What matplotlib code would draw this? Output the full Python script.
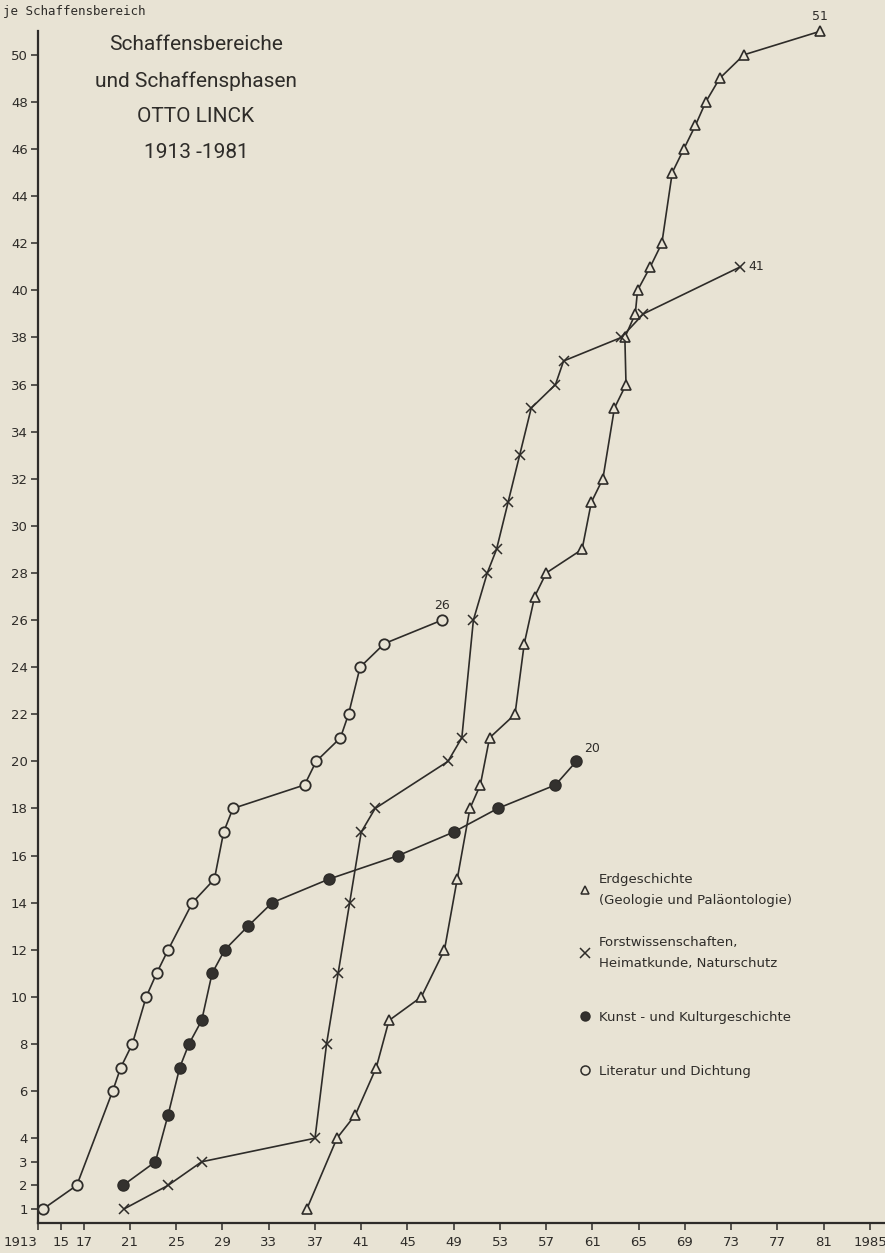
import matplotlib
matplotlib.use("Agg")
import matplotlib.pyplot as plt
from matplotlib.lines import Line2D
from matplotlib.legend import Legend

# ---------------- data ----------------
erd_years = [1936.3, 1938.9, 1940.5, 1942.3, 1943.4, 1946.2, 1948.2, 1949.3, 1950.4, 1951.3,
             1952.1, 1954.3, 1955.1, 1956.0, 1957.0, 1960.1, 1960.9, 1961.9, 1962.9, 1963.9,
             1963.8, 1964.7, 1964.9, 1966.0, 1967.0, 1967.9, 1968.9, 1969.9, 1970.8, 1972.0,
             1974.1, 1980.7]
erd_vals = [1, 4, 5, 7, 9, 10, 12, 15, 18, 19, 21, 22, 25, 27, 28, 29, 31, 32, 35, 36,
            38, 39, 40, 41, 42, 45, 46, 47, 48, 49, 50, 51]

forst_years = [1920.5, 1924.3, 1927.2, 1937.0, 1938.0, 1939.0, 1940.0, 1941.0, 1942.2, 1948.5,
               1949.7, 1950.7, 1951.9, 1952.7, 1953.7, 1954.7, 1955.7, 1957.8, 1958.5, 1963.5,
               1965.4, 1973.8]
forst_vals = [1, 2, 3, 4, 8, 11, 14, 17, 18, 20, 21, 26, 28, 29, 31, 33, 35, 36, 37, 38, 39, 41]

kunst_years = [1920.4, 1923.2, 1924.3, 1925.3, 1926.1, 1927.2, 1928.1, 1929.2, 1931.2, 1933.3,
               1938.2, 1944.2, 1949.0, 1952.8, 1957.8, 1959.6]
kunst_vals = [2, 3, 5, 7, 8, 9, 11, 12, 13, 14, 15, 16, 17, 18, 19, 20]

lit_years = [1913.5, 1916.4, 1919.5, 1920.2, 1921.2, 1922.4, 1923.3, 1924.3, 1926.4, 1928.3,
             1929.1, 1929.9, 1936.1, 1937.1, 1939.2, 1939.9, 1940.9, 1943.0, 1948.0]
lit_vals = [1, 2, 6, 7, 8, 10, 11, 12, 14, 15, 17, 18, 19, 20, 21, 22, 24, 25, 26]

x_ticks = [1913, 1915, 1917, 1921, 1925, 1929, 1933, 1937, 1941, 1945, 1949, 1953, 1957,
           1961, 1965, 1969, 1973, 1977, 1981, 1985]
x_ticklabels = ["1913", "15", "17", "21", "25", "29", "33", "37", "41", "45", "49", "53", "57",
                "61", "65", "69", "73", "77", "81", "1985"]
y_ticks = [1, 2, 3, 4] + list(range(6, 51, 2))

legend_labels = ["Erdgeschichte\n(Geologie und Paläontologie)",
                 "Forstwissenschaften,\nHeimatkunde, Naturschutz",
                 "Kunst - und Kulturgeschichte",
                 "Literatur und Dichtung"]
title_lines = ["Schaffensbereiche", "und Schaffensphasen", "OTTO LINCK", "1913 -1981"]

# ---------------- style ----------------
BG = "#e8e3d4"
INK = "#2e2c29"
DOT = "#33312e"
plt.rcParams["font.family"] = ["DejaVu Sans"]

W, H = 885, 1253
fig = plt.figure(figsize=(W / 100, H / 100), dpi=100, facecolor=BG)
ax = fig.add_axes([37.5 / W, 30 / H, (885 - 37.5) / W, (1223 - 31.25) / H])
ax.set_facecolor(BG)
ax.set_xlim(1913, 1986.3)
ax.set_ylim(0.4, 51)

lw = 1.2
ax.plot(erd_years, erd_vals, color=INK, lw=lw, marker="^", ms=7, mfc=BG, mec=INK, mew=1.2,
        clip_on=False, zorder=3)
ax.plot(forst_years, forst_vals, color=INK, lw=lw, marker="x", ms=7.5, mec=INK, mew=1.1,
        clip_on=False, zorder=3)
ax.plot(kunst_years, kunst_vals, color=INK, lw=lw, marker="o", ms=8, mfc=DOT, mec=INK,
        clip_on=False, zorder=3)
ax.plot(lit_years, lit_vals, color=INK, lw=lw, marker="o", ms=7.5, mfc=BG, mec=INK, mew=1.3,
        clip_on=False, zorder=3)

# end labels
ax.annotate(str(erd_vals[-1]), (erd_years[-1], erd_vals[-1]), xytext=(0, 6),
            textcoords="offset points", ha="center", va="bottom", fontsize=9, color=INK)
ax.annotate(str(forst_vals[-1]), (forst_years[-1], forst_vals[-1]), xytext=(6, 0),
            textcoords="offset points", ha="left", va="center", fontsize=9, color=INK)
ax.annotate(str(lit_vals[-1]), (lit_years[-1], lit_vals[-1]), xytext=(0, 6),
            textcoords="offset points", ha="center", va="bottom", fontsize=9, color=INK)
ax.annotate(str(kunst_vals[-1]), (kunst_years[-1], kunst_vals[-1]), xytext=(11, 9),
            textcoords="offset points", ha="center", va="center", fontsize=9, color=INK)

# axes
for s in ("top", "right"):
    ax.spines[s].set_visible(False)
for s in ("left", "bottom"):
    ax.spines[s].set_color(INK)
    ax.spines[s].set_linewidth(1.6)
ax.set_xticks(x_ticks)
ax.set_xticklabels(x_ticklabels)
ax.set_yticks(y_ticks)
ax.set_yticklabels([str(v) for v in y_ticks])
ax.tick_params(axis="both", colors=INK, labelcolor=INK, labelsize=9.5, length=5, width=1.1)
ax.tick_params(axis="x", pad=4)
ax.tick_params(axis="y", pad=2)
xl = ax.get_xticklabels()
xl[0].set_ha("right")

fig.text(3 / W, 1 - 12 / H, "je Schaffensbereich", fontsize=9, color=INK, ha="left",
         va="center", family=["DejaVu Sans Mono"])

# title
for i, t in enumerate(title_lines):
    fig.text(196 / W, 1 - (45 + i * 36) / H, t, fontsize=15, color=INK, ha="center",
             va="center", family=["Roboto", "DejaVu Sans"])

# legend: one small legend per entry so each can sit at its own height
handles = [
    Line2D([], [], ls="none", marker="^", ms=6, mfc=BG, mec=INK, mew=1.1),
    Line2D([], [], ls="none", marker="x", ms=6.5, mec=INK, mew=1.1),
    Line2D([], [], ls="none", marker="o", ms=6.5, mfc=DOT, mec=INK),
    Line2D([], [], ls="none", marker="o", ms=6.5, mfc=BG, mec=INK, mew=1.1),
]
centers_px = [890, 953, 1017, 1071]
for h, lab, cy in zip(handles, legend_labels, centers_px):
    lg = Legend(ax, [h], [lab], loc="center left", bbox_to_anchor=(578 / W, 1 - cy / H),
                bbox_transform=fig.transFigure, frameon=False, fontsize=9.5,
                handlelength=1.0, handletextpad=0.6, borderpad=0, borderaxespad=0,
                labelcolor=INK)
    for t in lg.get_texts():
        t.set_linespacing(1.75)
    ax.add_artist(lg)

fig.savefig("out.png", dpi=100, facecolor=BG)
